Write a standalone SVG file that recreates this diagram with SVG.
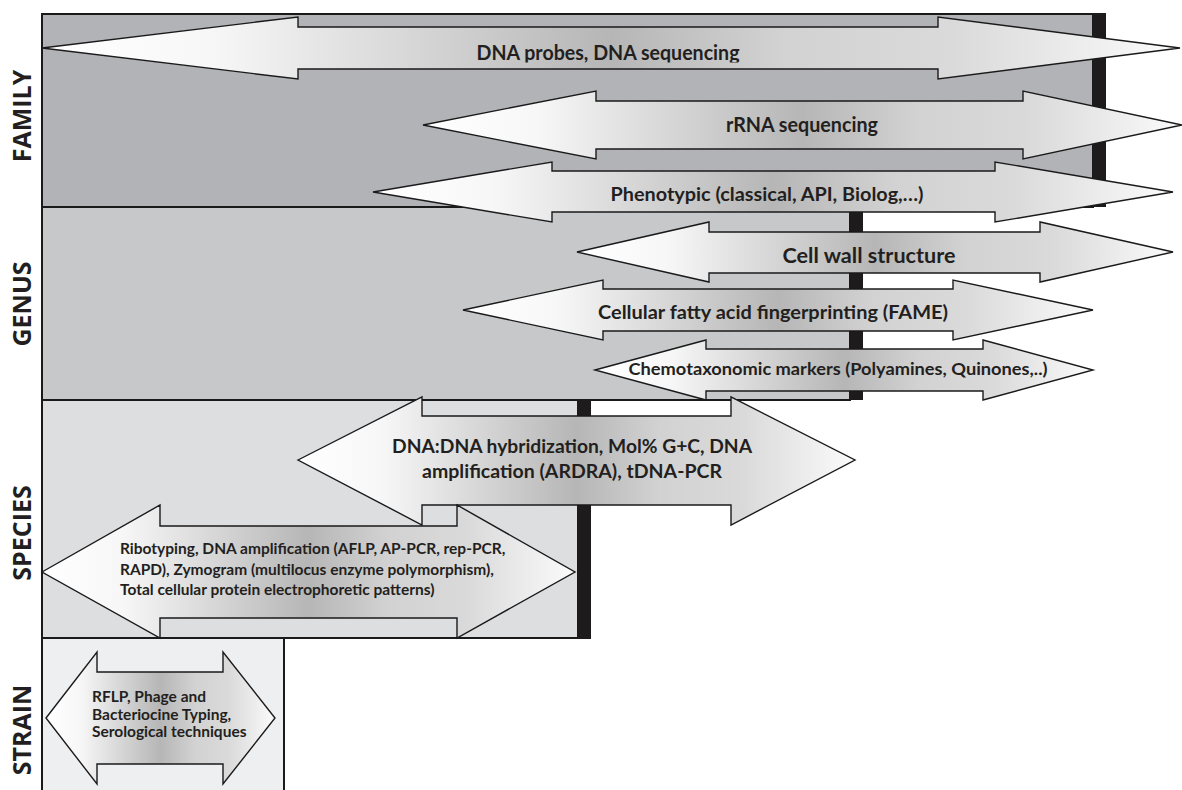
<svg xmlns="http://www.w3.org/2000/svg" width="1182" height="790" viewBox="0 0 1182 790">
<defs>
<linearGradient id="metal" x1="0" y1="0" x2="1" y2="0">
<stop offset="0" stop-color="#ffffff"/>
<stop offset="0.15" stop-color="#f7f7f7"/>
<stop offset="0.35" stop-color="#d2d2d2"/>
<stop offset="0.5" stop-color="#b6b6b6"/>
<stop offset="0.65" stop-color="#d2d2d2"/>
<stop offset="0.8" stop-color="#dadada"/>
<stop offset="1" stop-color="#fbfbfb"/>
</linearGradient>
<clipPath id="c1"><rect x="42" y="27" width="1138" height="35.5"/></clipPath>
<clipPath id="c3"><rect x="373" y="171" width="800" height="33.5"/></clipPath>
<clipPath id="c5"><rect x="463" y="289" width="630" height="33"/></clipPath>
</defs>
<style>
.band{stroke:#1a1a1a;stroke-width:2}
.bar{fill:#1e1b1c}
.arrow{fill:url(#metal);stroke:#1a1a1a;stroke-width:1.4;stroke-linejoin:miter}
.lbl{font-family:"Open Sans","DejaVu Sans",sans-serif;font-weight:bold;font-size:25px;fill:#231f20;text-anchor:middle}
.t{font-family:Lato,"Open Sans",sans-serif;font-weight:bold;fill:#231f20}
.c{text-anchor:middle}
</style>
<rect width="1182" height="790" fill="#ffffff"/>
<g id="bands">
<g id="family-band">
<rect class="band" x="42" y="14" width="1051" height="193" fill="#b2b3b7"/>
<rect class="bar" x="1093" y="13" width="13" height="194"/>
</g>
<g id="genus-band">
<rect class="band" x="42" y="207" width="808" height="193" fill="#c7c8ca"/>
<rect class="bar" x="850" y="207" width="13" height="193"/>
</g>
<g id="species-band">
<rect class="band" x="42" y="400" width="536" height="238" fill="#dddee0"/>
<rect class="bar" x="578" y="400" width="13" height="239"/>
</g>
<g id="strain-band">
<rect class="band" x="42" y="638" width="242" height="160" fill="#eeeff0"/>
</g>
</g>
<g id="labels">
<text class="lbl" transform="translate(31,116) rotate(-90)">FAMILY</text>
<text class="lbl" transform="translate(31,304) rotate(-90)">GENUS</text>
<text class="lbl" transform="translate(31,533) rotate(-90)">SPECIES</text>
<text class="lbl" transform="translate(31,730) rotate(-90)">STRAIN</text>
</g>
<g id="connectors">
<g id="a1">
<polygon class="arrow" points="42,48 298,17 298,27 938,27 938,17 1180,48 938,79 938,69 298,69 298,79"/>
<text class="t c" clip-path="url(#c1)" x="608" y="60" font-size="20" textLength="263" lengthAdjust="spacingAndGlyphs">DNA probes, DNA sequencing</text>
</g>
<g id="a2">
<polygon class="arrow" points="423,125 596,91 596,101 1023,101 1023,91 1182,125 1023,159 1023,149 596,149 596,159"/>
<text class="t c" x="802" y="132" font-size="20" textLength="152" lengthAdjust="spacingAndGlyphs">rRNA sequencing</text>
</g>
<g id="a3">
<polygon class="arrow" points="373,192 552,162 552,171 995,171 995,162 1173,192 995,222 995,212 552,212 552,222"/>
<text class="t c" clip-path="url(#c3)" x="767" y="201" font-size="18.5" textLength="313" lengthAdjust="spacingAndGlyphs">Phenotypic (classical, API, Biolog,…)</text>
</g>
<g id="a4">
<polygon class="arrow" points="577,252 709,222 709,232 1040,232 1040,222 1173,252 1040,282 1040,273 709,273 709,282"/>
<text class="t c" x="869" y="263" font-size="21.5" textLength="173" lengthAdjust="spacingAndGlyphs">Cell wall structure</text>
</g>
<g id="a5">
<polygon class="arrow" points="463,310 603,280 603,289 953,289 953,280 1093,310 953,340 953,331 603,331 603,340"/>
<text class="t c" clip-path="url(#c5)" x="773" y="319" font-size="19.5" textLength="350" lengthAdjust="spacingAndGlyphs">Cellular fatty acid fingerprinting (FAME)</text>
</g>
<g id="a6">
<polygon class="arrow" points="595,370 706,340 706,349 983,349 983,340 1093,370 983,400 983,391 706,391 706,400"/>
<text class="t c" x="838" y="375" font-size="17.5" textLength="419" lengthAdjust="spacingAndGlyphs">Chemotaxonomic markers (Polyamines, Quinones,..)</text>
</g>
<g id="a7">
<polygon class="arrow" points="298,460 422,397 422,416 731,416 731,397 855,460 731,525 731,505 422,505 422,525"/>
<text class="t c" x="572" y="453" font-size="19.5" textLength="360" lengthAdjust="spacingAndGlyphs">DNA:DNA hybridization, Mol% G+C, DNA</text>
<text class="t c" x="572" y="478" font-size="19.5">amplification (ARDRA), tDNA-PCR</text>
</g>
<g id="a8">
<polygon class="arrow" points="42,572 160,505 160,526 457,526 457,505 575,572 457,638 457,618 160,618 160,638"/>
<text class="t" x="120" y="554" font-size="15.5">Ribotyping, DNA amplification (AFLP, AP-PCR, rep-PCR,</text>
<text class="t" x="120" y="575" font-size="15.5">RAPD), Zymogram (multilocus enzyme polymorphism),</text>
<text class="t" x="120" y="595" font-size="15.5">Total cellular protein electrophoretic patterns)</text>
</g>
<g id="a9">
<polygon class="arrow" points="46,718 97,652 97,672 223,672 223,652 275,718 223,784 223,764 97,764 97,784"/>
<text class="t" x="92" y="702" font-size="15.5">RFLP, Phage and</text>
<text class="t" x="92" y="720" font-size="15.5">Bacteriocine Typing,</text>
<text class="t" x="92" y="737" font-size="15.5">Serological techniques</text>
</g>
</g>
</svg>
